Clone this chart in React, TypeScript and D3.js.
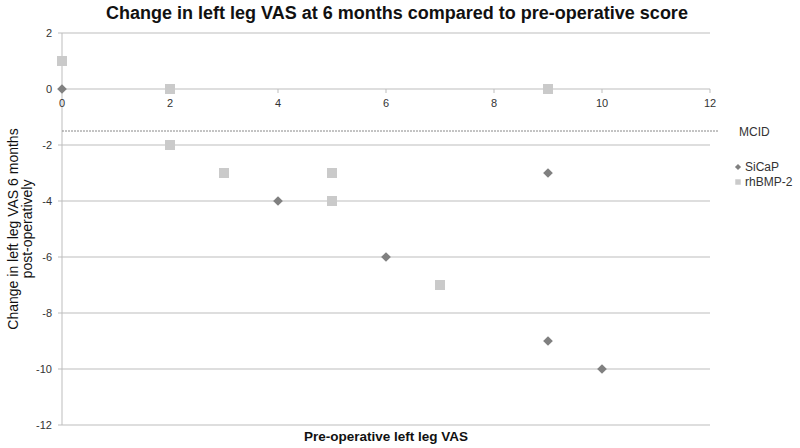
import React, { useRef, useEffect } from 'react';
import * as d3 from 'd3';

// pre-operative VAS (x) and change at 6 months (y)
const sicapX = [0, 3, 4, 6, 9, 9, 10];
const sicapY = [0, -3, -4, -6, -3, -9, -10];
const bmpX = [0, 2, 2, 3, 5, 5, 7, 9];
const bmpY = [1, 0, -2, -3, -3, -4, -7, 0];
const xTicks = [0, 2, 4, 6, 8, 10, 12];
const yTicks = [2, 0, -2, -4, -6, -8, -10, -12];
const mcid = -1.5;

function App() {
  const svgRef = useRef<SVGSVGElement>(null);

  useEffect(() => {
    const width = 800;
    const height = 448;
    const svg = d3.select(svgRef.current);
    svg.selectAll('*').remove();

    const x = d3.scaleLinear().domain([0, 12]).range([62, 710]);
    const y = d3.scaleLinear().domain([-12, 2]).range([425, 33]);
    const font = 'Liberation Sans, Arial, sans-serif';

    svg.append('rect').attr('width', width).attr('height', height).attr('fill', '#fff');

    // title
    svg.append('text')
      .attr('x', 397).attr('y', 19)
      .attr('text-anchor', 'middle')
      .attr('font-family', font).attr('font-size', 18).attr('font-weight', 'bold')
      .attr('fill', '#111')
      .text('Change in left leg VAS at 6 months compared to pre-operative score');

    // horizontal gridlines
    svg.append('g')
      .selectAll('line')
      .data(yTicks)
      .enter()
      .append('line')
      .attr('x1', x(0) - 4).attr('x2', x(12))
      .attr('y1', d => y(d)).attr('y2', d => y(d))
      .attr('stroke', '#bdbdbd').attr('stroke-width', 1);

    // y axis line
    svg.append('line')
      .attr('x1', x(0)).attr('x2', x(0))
      .attr('y1', y(2)).attr('y2', y(-12))
      .attr('stroke', '#bdbdbd');

    // y tick labels
    svg.append('g')
      .selectAll('text')
      .data(yTicks)
      .enter()
      .append('text')
      .attr('x', 52).attr('y', d => y(d) + 4)
      .attr('text-anchor', 'end')
      .attr('font-family', font).attr('font-size', 11).attr('fill', '#333')
      .text(d => d);

    // x axis crosses at 0
    svg.append('g')
      .selectAll('line')
      .data(xTicks)
      .enter()
      .append('line')
      .attr('x1', d => x(d)).attr('x2', d => x(d))
      .attr('y1', y(0)).attr('y2', y(0) + 4)
      .attr('stroke', '#bdbdbd');

    svg.append('g')
      .selectAll('text')
      .data(xTicks)
      .enter()
      .append('text')
      .attr('x', d => x(d)).attr('y', y(0) + 18)
      .attr('text-anchor', 'middle')
      .attr('font-family', font).attr('font-size', 11).attr('fill', '#333')
      .text(d => d);

    // MCID line
    svg.append('line')
      .attr('x1', x(0)).attr('x2', 718)
      .attr('y1', y(mcid)).attr('y2', y(mcid))
      .attr('stroke', '#888').attr('stroke-width', 1)
      .attr('stroke-dasharray', '2,1');

    svg.append('text')
      .attr('x', 739).attr('y', y(mcid) + 5)
      .attr('font-family', font).attr('font-size', 12).attr('fill', '#333')
      .text('MCID');

    // points
    const diamond = d3.symbol().type(d3.symbolDiamond2).size(60);
    const square = d3.symbol().type(d3.symbolSquare).size(100);

    svg.append('g')
      .selectAll('path')
      .data(sicapX.map((v, i) => [v, sicapY[i]]))
      .enter()
      .append('path')
      .attr('d', diamond)
      .attr('transform', d => `translate(${x(d[0])},${y(d[1])})`)
      .attr('fill', '#808080');

    svg.append('g')
      .selectAll('path')
      .data(bmpX.map((v, i) => [v, bmpY[i]]))
      .enter()
      .append('path')
      .attr('d', square)
      .attr('transform', d => `translate(${x(d[0])},${y(d[1])})`)
      .attr('fill', '#cacaca');

    // legend
    const legend = svg.append('g');
    legend.append('path')
      .attr('d', d3.symbol().type(d3.symbolDiamond2).size(24)())
      .attr('transform', 'translate(738,167)')
      .attr('fill', '#808080');
    legend.append('text')
      .attr('x', 745).attr('y', 171)
      .attr('font-family', font).attr('font-size', 12).attr('fill', '#333')
      .text('SiCaP');
    legend.append('path')
      .attr('d', d3.symbol().type(d3.symbolSquare).size(30)())
      .attr('transform', 'translate(738,182)')
      .attr('fill', '#cacaca');
    legend.append('text')
      .attr('x', 745).attr('y', 186)
      .attr('font-family', font).attr('font-size', 12).attr('fill', '#333')
      .text('rhBMP-2');

    // axis titles
    svg.append('text')
      .attr('x', 386).attr('y', 441)
      .attr('text-anchor', 'middle')
      .attr('font-family', font).attr('font-size', 13.5).attr('font-weight', 'bold')
      .attr('fill', '#111')
      .text('Pre-operative left leg VAS');

    const yTitle = svg.append('text')
      .attr('transform', 'translate(0,229) rotate(-90)')
      .attr('text-anchor', 'middle')
      .attr('font-family', font).attr('font-size', 14).attr('fill', '#111');
    yTitle.append('tspan').attr('x', 0).attr('y', 18).text('Change in left leg VAS 6 months');
    yTitle.append('tspan').attr('x', 0).attr('y', 32).text('post-operatively');
  }, []);

  return (
    <svg
      ref={svgRef}
      width={800}
      height={448}
      style={{ position: 'absolute', left: 0, top: 0 }}
    />
  );
}

export default App;
